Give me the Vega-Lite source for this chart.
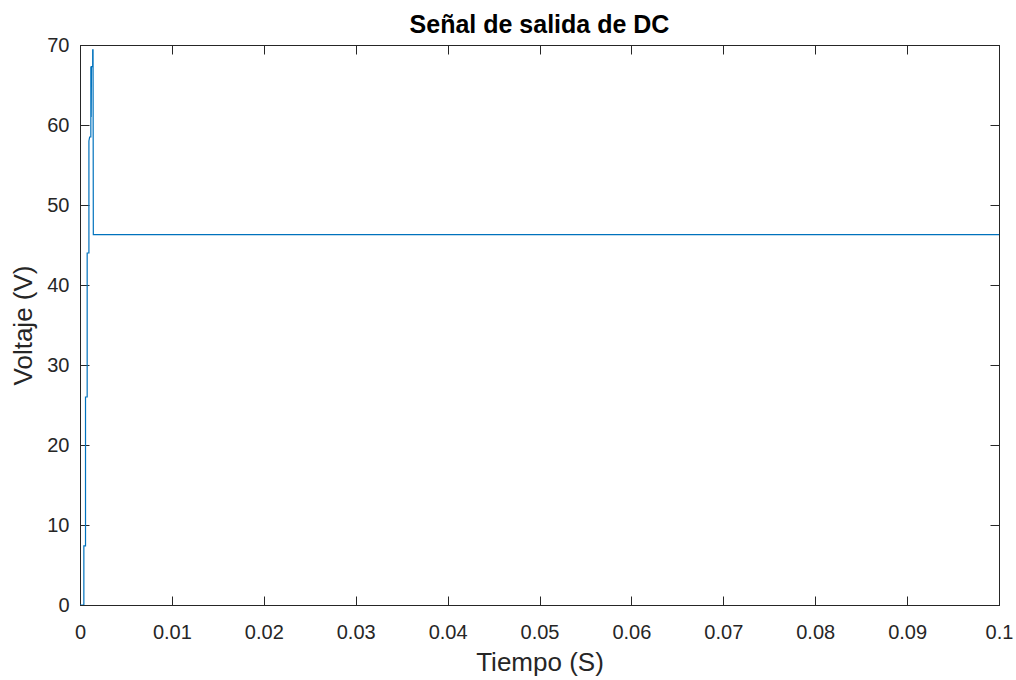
{
  "$schema": "https://vega.github.io/schema/vega-lite/v6.json",
  "autosize": {"type": "none"},
  "width": 919,
  "height": 560,
  "padding": {"left": 80, "top": 45, "right": 17, "bottom": 75},
  "background": "white",
  "config": {
    "font": "Liberation Sans",
    "view": {"stroke": "#262626", "strokeWidth": 1},
    "axis": {
      "grid": false,
      "domainColor": "#262626",
      "tickColor": "#262626",
      "labelColor": "#262626",
      "titleColor": "#262626",
      "labelFontSize": 20,
      "titleFontSize": 26,
      "titleFontWeight": "normal",
      "tickSize": -9,
      "labelFont": "Liberation Sans",
      "titleFont": "Liberation Sans"
    }
  },
  "title": {
    "text": "Señal de salida de DC",
    "fontSize": 25,
    "fontWeight": "bold",
    "font": "Liberation Sans",
    "color": "#000000",
    "offset": -3
  },
  "data": {
    "values": [
      {"t": 0, "v": 0},
      {"t": 0.00042, "v": 0},
      {"t": 0.00042, "v": 7.4},
      {"t": 0.0006, "v": 7.4},
      {"t": 0.0006, "v": 26},
      {"t": 0.00078, "v": 26},
      {"t": 0.00078, "v": 44},
      {"t": 0.00097, "v": 44},
      {"t": 0.00097, "v": 58},
      {"t": 0.00105, "v": 58.5},
      {"t": 0.00118, "v": 58.5},
      {"t": 0.00118, "v": 67.3},
      {"t": 0.00122, "v": 61},
      {"t": 0.00125, "v": 67.3},
      {"t": 0.00138, "v": 67.3},
      {"t": 0.00138, "v": 69.4},
      {"t": 0.00142, "v": 69.4},
      {"t": 0.00145, "v": 46.3},
      {"t": 0.1, "v": 46.3}
    ]
  },
  "layer": [
    {
      "mark": {"type": "line", "color": "#0072BD", "strokeWidth": 1.2, "clip": true},
      "encoding": {
        "x": {
          "field": "t", "type": "quantitative",
          "scale": {"domain": [0, 0.1], "nice": false, "zero": false},
          "axis": {"title": "Tiempo (S)", "values": [0,0.01,0.02,0.03,0.04,0.05,0.06,0.07,0.08,0.09,0.1], "labelExpr": "datum.value == 0 ? '0' : format(datum.value, '.2~f')", "labelPadding": 26, "titlePadding": 7, "labelFlush": false}
        },
        "y": {
          "field": "v", "type": "quantitative",
          "scale": {"domain": [0, 70], "nice": false},
          "axis": {"title": "Voltaje (V)", "values": [0,10,20,30,40,50,60,70], "labelPadding": 20, "titlePadding": 10}
        },
        "order": {"field": "t"}
      }
    },
    {
      "mark": {"type": "point", "opacity": 0},
      "encoding": {
        "x": {
          "field": "t", "type": "quantitative",
          "scale": {"domain": [0, 0.1], "nice": false, "zero": false},
          "axis": {"orient": "top", "title": null, "labels": false, "values": [0,0.01,0.02,0.03,0.04,0.05,0.06,0.07,0.08,0.09,0.1]}
        },
        "y": {
          "field": "v", "type": "quantitative",
          "scale": {"domain": [0, 70], "nice": false},
          "axis": {"orient": "right", "title": null, "labels": false, "values": [0,10,20,30,40,50,60,70]}
        }
      }
    }
  ],
  "resolve": {"axis": {"x": "independent", "y": "independent"}}
}
